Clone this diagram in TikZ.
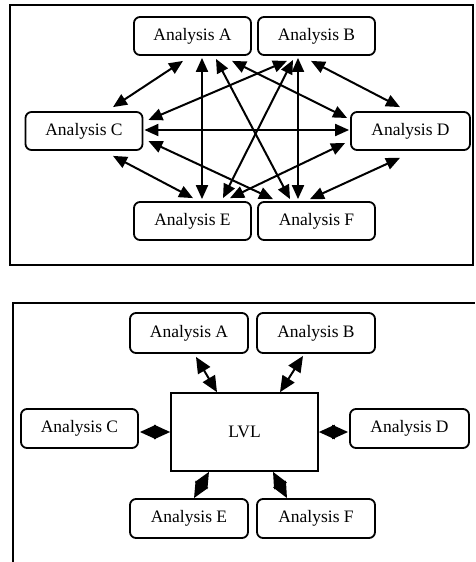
\documentclass[tikz,border=0pt]{standalone}
\usepackage{fontspec}
\setmainfont{Liberation Serif}
\usetikzlibrary{arrows.meta}
\begin{document}
\begin{tikzpicture}[x=1pt,y=-1pt,
  abox/.style={draw,line width=1.8pt,rounded corners=6pt,inner sep=0pt,
    minimum width=117pt,minimum height=38pt,font=\fontsize{17.5}{20}\selectfont},
  cbox/.style={draw,line width=1.6pt,inner sep=0pt,
    minimum width=147pt,minimum height=78pt,font=\fontsize{17.5}{20}\selectfont},
  link/.style={line width=2pt,{Triangle[length=14pt,width=12pt]}-{Triangle[length=14pt,width=12pt]}},
  blink/.style={line width=2pt,{Triangle[length=16pt,width=14pt]}-{Triangle[length=16pt,width=14pt]}},
  frame/.style={line width=1.3pt}]
\useasboundingbox (0,0) rectangle (475,562);
% top panel
\draw[frame] (10,5) rectangle (473,265);
\node[abox] (A) at (192.5,36) {Analysis A};
\node[abox] (B) at (316.5,36) {Analysis B};
\node[abox] (C) at (84,131) {Analysis C};
\node[abox,minimum width=119pt] (D) at (410.5,131) {Analysis D};
\node[abox] (E) at (192.5,221) {Analysis E};
\node[abox] (F) at (316.5,221) {Analysis F};
\draw[link] ([xshift=-9.5pt,yshift=-5pt]A.south) -- ([xshift=29pt,yshift=4pt]C.north);
\draw[link] ([xshift=9.5pt,yshift=-2pt]A.south) -- ([xshift=9.5pt,yshift=2pt]E.north);
\draw[link] ([xshift=23.5pt,yshift=-3pt]A.south) -- ([xshift=-26.5pt,yshift=2pt]F.north);
\draw[link] ([xshift=39.5pt,yshift=-5pt]A.south) -- ([xshift=-3pt,yshift=13pt]D.west);
\draw[link] ([xshift=-29.5pt,yshift=-5pt]B.south) -- ([xshift=5pt,yshift=11pt]C.east);
\draw[link] ([xshift=-23.5pt,yshift=-4pt]B.south) -- ([xshift=30.5pt,yshift=3pt]E.north);
\draw[link] ([xshift=-18.5pt,yshift=-2pt]B.south) -- ([xshift=-18.5pt,yshift=2pt]F.north);
\draw[link] ([xshift=-5.5pt,yshift=-5pt]B.south) -- ([xshift=-10.5pt,yshift=4pt]D.north);
\draw[link] ([xshift=1pt,yshift=1pt]C.east) -- ([xshift=-1pt,yshift=1pt]D.west);
\draw[link] ([xshift=29pt,yshift=-5pt]C.south) -- ([xshift=0.5pt,yshift=3pt]E.north);
\draw[link] ([xshift=5pt,yshift=-10pt]C.east) -- ([xshift=-43.5pt,yshift=2pt]F.north);
\draw[link] ([xshift=-5pt,yshift=-12pt]D.west) -- ([xshift=37.5pt,yshift=3pt]E.north);
\draw[link] ([xshift=-10.5pt,yshift=-7pt]D.south) -- ([xshift=-6.5pt,yshift=2pt]F.north);
% bottom panel
\draw[frame] (13,562) -- (13,303) -- (475,303);
\node[abox,minimum width=118pt,minimum height=40pt] (A2) at (189,333) {Analysis A};
\node[abox,minimum width=118pt,minimum height=40pt] (B2) at (316,333) {Analysis B};
\node[abox,minimum height=39pt] (C2) at (79.5,428.5) {Analysis C};
\node[abox,minimum width=119pt,minimum height=39pt] (D2) at (409.5,428.5) {Analysis D};
\node[cbox] (L) at (244.5,432) {LVL};
\node[abox,minimum width=118pt,minimum height=39pt] (E2) at (189,518.5) {Analysis E};
\node[abox,minimum width=118pt,minimum height=39pt] (F2) at (316,518.5) {Analysis F};
\draw[blink] ([xshift=7pt,yshift=-3pt]A2.south) -- ([xshift=-27.5pt,yshift=0pt]L.north);
\draw[blink] ([xshift=-13pt,yshift=-2pt]B2.south) -- ([xshift=35.5pt,yshift=0pt]L.north);
\draw[blink] ([xshift=1pt]C2.east |- L.west) -- (L.west);
\draw[blink] ([xshift=-1pt]D2.west |- L.east) -- (L.east);
\draw[blink] ([xshift=5pt,yshift=0pt]E2.north) -- ([xshift=-35.5pt,yshift=0pt]L.south);
\draw[blink] ([xshift=-29pt,yshift=0pt]F2.north) -- ([xshift=28.5pt,yshift=0pt]L.south);
\end{tikzpicture}
\end{document}
